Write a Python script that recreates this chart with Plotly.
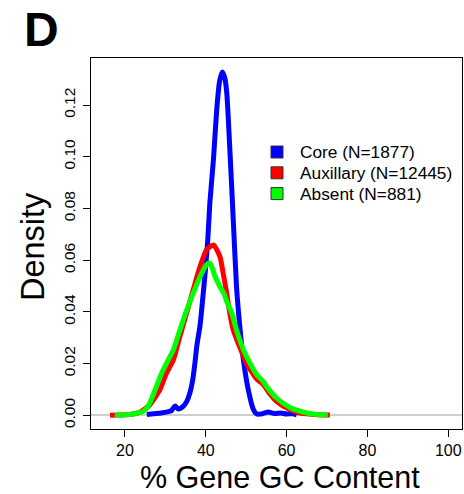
import plotly.graph_objects as go

# ---- data ----
core_x = [25.4, 27, 29, 30.5, 31.5, 32.4, 33.2, 34.3, 35.3, 36.1, 36.8, 37.3, 37.8, 38.6, 39.3, 39.9,
          40.5, 41.0, 41.9, 42.7, 43.4, 44.1, 44.7, 45.2, 46.0, 46.8, 47.6, 48.5, 49.3, 50.5, 51.8,
          52.6, 54, 55.5, 57, 58.5, 60, 61.5, 62.5]
core_y = [0.0003, 0.0006, 0.0009, 0.0013, 0.0018, 0.0036, 0.0024, 0.0033, 0.0054, 0.0088, 0.014,
          0.020, 0.027, 0.035, 0.046, 0.056, 0.068, 0.082, 0.099, 0.118, 0.129, 0.1328, 0.1305,
          0.1246, 0.1015, 0.0756, 0.050, 0.033, 0.0215, 0.010, 0.0022, 0.0005, 0.0006, 0.0013,
          0.0007, 0.0009, 0.0005, 0.0006, 0.0002]

aux_x = [16.3, 18, 20, 22, 23.7, 25, 26.2, 27.5, 28.7, 30.3, 32.0, 33.6, 35.3, 36.9, 38.6, 40.2,
         41.9, 43.5, 44.3, 45.2, 46.0, 46.8, 48.5, 50.1, 52.6, 54.2, 55.5, 57.5, 60.8, 63, 65, 68, 70.7]
aux_y = [0.0000, 0.0001, 0.0002, 0.0005, 0.0012, 0.0025, 0.0041, 0.0070, 0.010, 0.0164, 0.0215,
         0.0305, 0.0397, 0.0486, 0.0576, 0.064, 0.0659, 0.0614, 0.055, 0.047, 0.039, 0.033, 0.026,
         0.020, 0.014, 0.0120, 0.0090, 0.0054, 0.0022, 0.0010, 0.0006, 0.0002, 0.0001]

abs_x = [17.5, 19, 21, 23, 24.5, 25.5, 26.2, 27.8, 29.1, 30.3, 32.0, 33.6, 35.3, 36.9, 38.6, 40.2,
         41.0, 41.6, 42.3, 43.5, 44.5, 45.2, 46.4, 47.6, 49.3, 50.9, 52.6, 54.2, 55.1, 57.5, 60.8,
         62.5, 65.0, 67, 70.2]
abs_y = [0.0000, 0.0001, 0.0003, 0.0008, 0.0015, 0.003, 0.0049, 0.0112, 0.0164, 0.0202, 0.0254,
         0.033, 0.0408, 0.0473, 0.0537, 0.0583, 0.0589, 0.057, 0.0537, 0.0498, 0.047, 0.044, 0.0397,
         0.033, 0.0254, 0.0203, 0.0157, 0.0131, 0.0110, 0.0067, 0.0030, 0.0020, 0.0009, 0.0004, 0.0001]

series_names = ["Core (N=1877)", "Auxillary (N=12445)", "Absent (N=881)"]
series_colors = ["#0000FF", "#FF0000", "#00FF00"]

x_ticks = [20, 40, 60, 80, 100]
y_ticks = [0.00, 0.02, 0.04, 0.06, 0.08, 0.10, 0.12]

FONT = "Liberation Sans, Arial, Helvetica, sans-serif"

W, H = 464, 494
L, R, T, B = 91, 2, 58, 65
PW, PH = W - L - R, H - T - B


def px_x(px):
    return (px - L) / PW


def px_y(py):
    return 1 - (py - T) / PH


fig = go.Figure()
for xs, ys, name, col in zip([core_x, aux_x, abs_x], [core_y, aux_y, abs_y], series_names, series_colors):
    fig.add_trace(go.Scatter(x=xs, y=ys, mode="lines", name=name,
                             line=dict(color=col, width=5, shape="spline", smoothing=0.6),
                             showlegend=False, hoverinfo="skip"))

annotations = [
    dict(text="Density", x=px_x(33), y=px_y(247), textangle=-90, font=dict(size=32.5)),
    dict(text="% Gene GC Content", x=px_x(280), y=px_y(477), font=dict(size=30.5)),
    dict(text="<b>D</b>", x=px_x(41), y=px_y(29.5), font=dict(size=48)),
]
shapes = []
# legend: square swatches and labels
leg_rows = [152, 172.8, 193.6]
for name, col, ry in zip(series_names, series_colors, leg_rows):
    annotations.append(dict(text=name, x=px_x(298), y=px_y(ry), xanchor="left", font=dict(size=17.3)))
    shapes.append(dict(type="rect", xref="paper", yref="paper",
                       x0=px_x(271), x1=px_x(283), y0=px_y(ry + 6), y1=px_y(ry - 6),
                       fillcolor=col, line=dict(color="#333333", width=1)))

for a in annotations:
    a.setdefault("xref", "paper")
    a.setdefault("yref", "paper")
    a.setdefault("showarrow", False)
    a.setdefault("xanchor", "center")
    a.setdefault("yanchor", "middle")

fig.update_layout(
    width=W, height=H,
    margin=dict(l=L, r=R, t=T, b=B, autoexpand=False),
    paper_bgcolor="white", plot_bgcolor="white",
    font=dict(family=FONT, color="black", size=15),
    showlegend=False,
    xaxis=dict(range=[11.6, 103.4], tickvals=x_ticks, ticks="outside", ticklen=7, tickwidth=1,
               tickcolor="black", showline=True, linecolor="black", linewidth=1, mirror=True,
               showgrid=False, zeroline=False, tickfont=dict(size=16), automargin=False),
    yaxis=dict(range=[-0.0053, 0.1382], tickvals=y_ticks, tickformat=".2f", ticks="outside", ticklen=7,
               tickwidth=1, tickcolor="black", showline=True, linecolor="black", linewidth=1, mirror=True,
               showgrid=False, zeroline=True, zerolinecolor="#cfcfcf", zerolinewidth=2,
               tickangle=-90, tickfont=dict(size=15.5), ticklabelstandoff=2, automargin=False),
    annotations=annotations,
    shapes=shapes,
)

fig.write_html("out.html", config={"displayModeBar": False},
               post_script="document.body.style.margin='0';document.body.style.overflow='hidden';")
